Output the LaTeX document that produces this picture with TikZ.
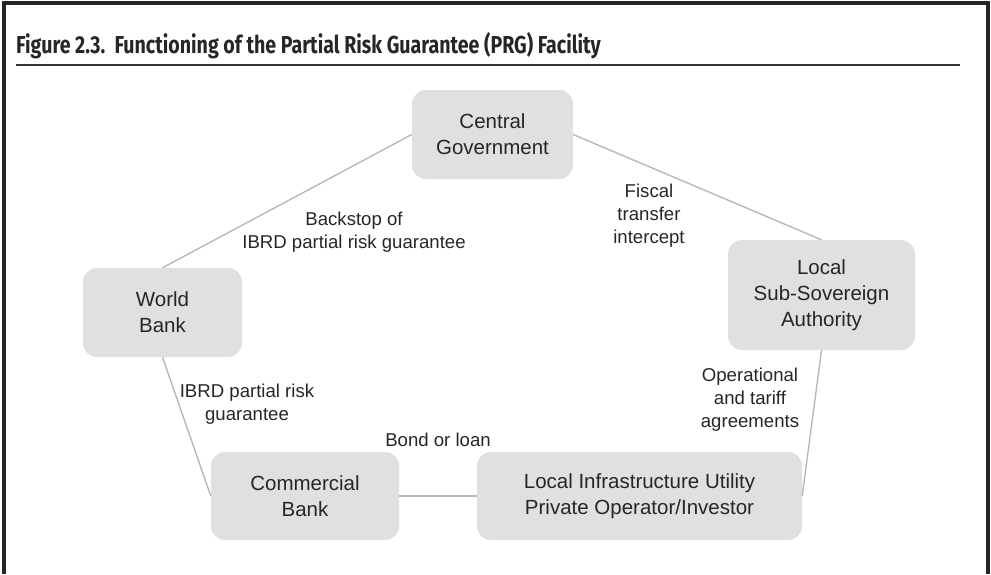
\documentclass[tikz,border=0pt]{standalone}
\usepackage{fontspec}
\setmainfont{Liberation Sans}
\newfontfamily\titlefont{Fira Sans}[FakeStretch=0.8]
\begin{document}
\begin{tikzpicture}[x=1pt,y=-1pt,
  box/.style={draw=none,fill=black!12,rounded corners=14pt,align=center,
    inner sep=0pt,text=black!85,font=\fontsize{20.5}{26}\selectfont},
  lbl/.style={align=center,inner sep=0pt,text=black!85,font=\fontsize{18.6}{23}\selectfont},
  link/.style={draw=black!28,line width=1.4pt}]
\useasboundingbox (0,0) rectangle (991,574);
% frame
\draw[line width=4pt,black!85] (3.5,574) -- (3.5,3) -- (987.5,3) -- (987.5,574);
\node[anchor=base west,inner sep=0pt,font=\titlefont\bfseries\fontsize{24.5}{29}\selectfont,text=black!85] (title) at (16,53)
  {Figure 2.3.\ \ Functioning of the Partial Risk Guarantee (PRG) Facility};
\draw[line width=1.4pt,black!80] (16,65) -- (960,65);
% nodes
\node[box,minimum width=161pt,minimum height=89pt] (cg) at (492.5,134.5) {Central\\Government};
\node[box,minimum width=159pt,minimum height=89pt] (wb) at (162.5,312.5) {World\\Bank};
\node[box,minimum width=187pt,minimum height=110pt] (lss) at (821.5,295) {Local\\Sub-Sovereign\\Authority};
\node[box,minimum width=188pt,minimum height=88pt] (cb) at (305,496) {Commercial\\Bank};
\node[box,minimum width=325pt,minimum height=88pt] (liu) at (639.5,496) {Local Infrastructure Utility\\Private Operator/Investor};
% connectors
\draw[link] (cg.west) -- (wb.north);
\draw[link] (cg.east) -- (lss.north);
\draw[link] (wb.south) -- (cb.west);
\draw[link] (lss.south) -- (liu.east);
\draw[link] (cb.east) -- (liu.west);
% labels
\node[lbl] (l1) at (354,232) {Backstop of\\IBRD partial risk guarantee};
\node[lbl] (l2) at (649,216) {Fiscal\\transfer\\intercept};
\node[lbl] (l3) at (247,404) {IBRD partial risk\\guarantee};
\node[lbl] (l4) at (438,440) {Bond or loan};
\node[lbl] (l5) at (750,400) {Operational\\and tariff\\agreements};
\end{tikzpicture}
\end{document}
